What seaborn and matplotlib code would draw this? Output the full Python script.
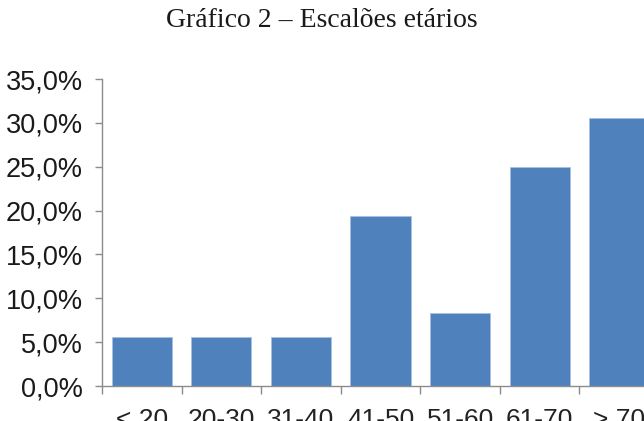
import matplotlib
matplotlib.use("Agg")
import matplotlib.pyplot as plt
import pandas as pd
import seaborn as sns
from matplotlib.ticker import FuncFormatter, FixedLocator

sns.set_theme(style="white")
plt.rcParams['font.family'] = ['Liberation Sans', 'DejaVu Sans']

categories = ['< 20', '20-30', '31-40', '41-50', '51-60', '61-70', '> 70']
values = [5.56, 5.56, 5.56, 19.44, 8.33, 25.0, 30.56]
yticks = [0, 5, 10, 15, 20, 25, 30, 35]

df = pd.DataFrame({'Escalão': categories, 'Percentagem': values})

fig = plt.figure(figsize=(6.44, 4.21), dpi=100)
ax = fig.add_axes([0.1584, 0.0831, 0.865, 0.729])

sns.barplot(data=df, x='Escalão', y='Percentagem', color='#4F81BD',
            width=0.755, edgecolor='#A9C1E0', linewidth=0.6,
            saturation=1, ax=ax)

ax.set_xlim(-0.5, 6.5)
ax.set_ylim(0, 35)
ax.set_yticks(yticks)
ax.yaxis.set_major_formatter(FuncFormatter(lambda v, p: f'{v:.1f}%'.replace('.', ',')))
ax.xaxis.set_minor_locator(FixedLocator([i - 0.5 for i in range(len(categories) + 1)]))

grey = '#8C8C8C'
for s in ['top', 'right']:
    ax.spines[s].set_visible(False)
for s in ['left', 'bottom']:
    ax.spines[s].set_color(grey)
    ax.spines[s].set_linewidth(1.0)

ax.tick_params(axis='y', which='major', left=True, length=5, width=1, color=grey,
               direction='out', labelsize=19.5, pad=9, labelcolor='#1a1a1a')
ax.tick_params(axis='x', which='major', bottom=False, labelsize=19, pad=10,
               labelcolor='#222222')
ax.tick_params(axis='x', which='minor', bottom=True, length=6, width=1, color=grey,
               direction='out')
ax.set_xlabel('')
ax.set_ylabel('')
ax.grid(False)

fig.text(0.5, 0.952, 'Gráfico 2 – Escalões etários', ha='center', va='center',
         fontsize=20, family=['Liberation Serif', 'DejaVu Serif'], color='#1a1a1a')

fig.savefig('out.png', dpi=100)
